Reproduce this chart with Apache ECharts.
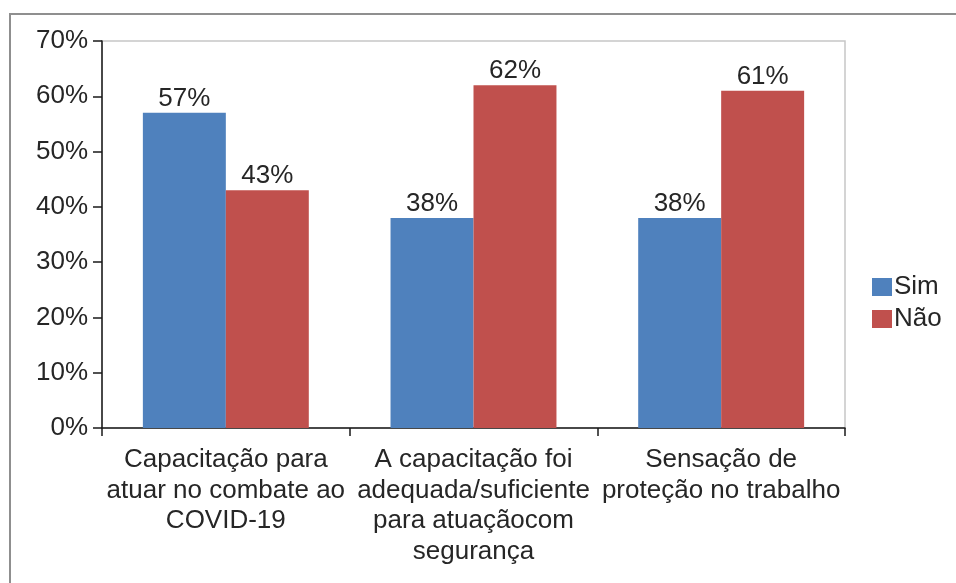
<!DOCTYPE html>
<html>
<head>
<meta charset="utf-8">
<script src="https://cdn.jsdelivr.net/npm/echarts@6/dist/echarts.min.js"></script>
<style>
  html, body { margin: 0; padding: 0; background: #fff; }
  #chart { width: 956px; height: 583px; }
</style>
</head>
<body>
<div id="chart"></div>
<script>
// Survey answers per question, in percent
const categories = [
  'Capacitação para\natuar no combate ao\nCOVID-19',
  'A capacitação foi\nadequada/suficiente\npara atuaçãocom\nsegurança',
  'Sensação de\nproteção no trabalho'
];
const seriesNames = ['Sim', 'Não'];
const simValues = [57, 38, 38];
const naoValues = [43, 62, 61];
const yTicks = [0, 10, 20, 30, 40, 50, 60, 70];

const FONT = '"Liberation Sans", Arial, sans-serif';
const TEXT = '#262626';
const FS = 26;

const chart = echarts.init(document.getElementById('chart'), null, { renderer: 'canvas' });

const labelStyle = {
  show: true,
  position: 'top',
  distance: 1,
  color: TEXT,
  fontFamily: FONT,
  fontSize: FS,
  formatter: p => p.value + '%'
};

chart.setOption({
  animation: false,
  backgroundColor: '#ffffff',
  textStyle: { fontFamily: FONT },
  graphic: [{
    type: 'rect',
    shape: { x: 10, y: 14, width: 980, height: 620 },
    style: { fill: 'none', stroke: '#8f8f8f', lineWidth: 2 },
    silent: true,
    z: -10
  }],
  grid: {
    left: 102, right: 111, top: 41, bottom: 155,
    show: true,
    borderColor: '#c6c6c6',
    borderWidth: 1.5,
    backgroundColor: 'transparent'
  },
  legend: {
    orient: 'vertical',
    left: 867,
    top: 269,
    itemWidth: 20,
    itemHeight: 18,
    itemGap: 6,
    icon: 'rect',
    data: seriesNames,
    textStyle: { color: TEXT, fontFamily: FONT, fontSize: FS, padding: [0, 0, 0, -3] }
  },
  xAxis: {
    type: 'category',
    data: categories,
    axisLine: { show: true, lineStyle: { color: '#1a1a1a', width: 1.5 } },
    axisTick: { show: true, length: 8, lineStyle: { color: '#1a1a1a', width: 1.5 } },
    axisLabel: {
      color: TEXT, fontFamily: FONT, fontSize: FS, lineHeight: 30.5,
      margin: 17, interval: 0, align: 'center'
    },
    splitLine: { show: false }
  },
  yAxis: {
    type: 'value',
    min: yTicks[0],
    max: yTicks[yTicks.length - 1],
    interval: 10,
    axisLine: { show: true, lineStyle: { color: '#1a1a1a', width: 1.5 } },
    axisTick: { show: true, length: 9, lineStyle: { color: '#1a1a1a', width: 1.5 } },
    axisLabel: {
      color: TEXT, fontFamily: FONT, fontSize: FS, margin: 14,
      formatter: v => v + '%'
    },
    splitLine: { show: false }
  },
  series: [
    {
      name: seriesNames[0],
      type: 'bar',
      data: simValues,
      barGap: '0%',
      barCategoryGap: '33%',
      itemStyle: { color: '#4f81bd' },
      label: labelStyle
    },
    {
      name: seriesNames[1],
      type: 'bar',
      data: naoValues,
      itemStyle: { color: '#c0504d' },
      label: labelStyle
    }
  ]
});
</script>
</body>
</html>
